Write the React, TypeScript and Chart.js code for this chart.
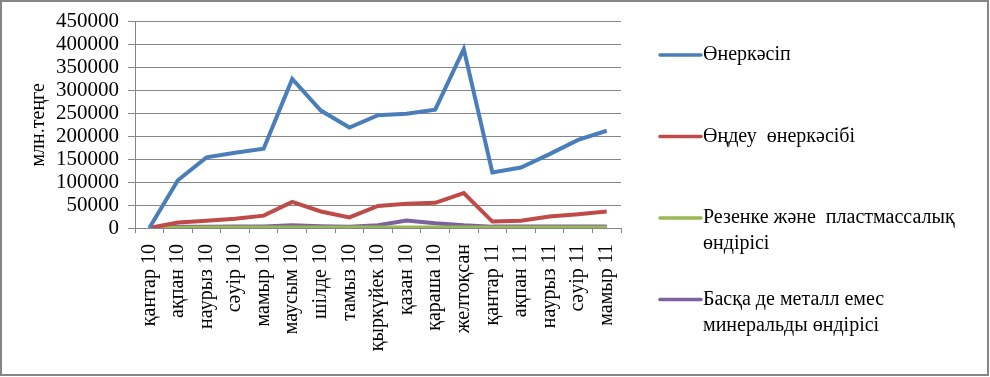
import React, { useEffect, useRef } from "react";
import { Chart, registerables } from "chart.js";

Chart.register(...registerables);

const categories = [
  "қантар 10", "ақпан 10", "наурыз 10", "сәуір 10", "мамыр 10", "маусым 10",
  "шілде 10", "тамыз 10", "қыркүйек 10", "қазан 10", "қараша 10", "желтоқсан",
  "қантар 11", "ақпан 11", "наурыз 11", "сәуір 11", "мамыр 11",
];

const industry = [0, 104000, 154000, 164000, 173000, 325000, 256000, 219000, 246000, 249000, 258000, 390000, 121000, 132000, 161000, 192000, 212000];
const manufacturing = [0, 12000, 16000, 20000, 27000, 57000, 36000, 23000, 48000, 53000, 55000, 76000, 14000, 16000, 25000, 30000, 36000];
const rubberPlastic = [0, 800, 900, 1000, 1000, 1200, 1100, 1000, 1200, 1300, 1300, 1100, 900, 900, 1000, 1000, 1100];
const otherMinerals = [0, 2500, 2800, 3000, 3300, 6000, 4000, 2800, 6000, 16500, 10500, 6000, 3000, 3000, 3200, 3500, 3500];

const seriesLabels = [
  "Өнеркәсіп",
  "Өңдеу  өнеркәсібі",
  "Резенке және  пластмассалық өндірісі",
  "Басқа де металл емес минеральды өндірісі",
];
const seriesColors = ["#4A7EBB", "#BE4B48", "#98B954", "#7D60A0"];

const yTitle = "млн.теңге";
const yMin = 0;
const yMax = 450000;
const yStep = 50000;

const FONT = "Liberation Serif";

const legendPlugin = {
  id: "customLegend",
  afterDraw(chart: any) {
    const ctx = chart.ctx;
    ctx.save();
    ctx.font = "normal 20px \"Liberation Serif\"";
    ctx.textBaseline = "middle";
    ctx.textAlign = "left";
    const startY = 55;
    const stepY = 81.5;
    const lineH = 26;
    const x0 = 660;
    const x1 = 701;
    const tx = 703;
    const maxW = 272;
    chart.data.datasets.forEach((ds: any, i: number) => {
      const y = startY + i * stepY;
      ctx.strokeStyle = ds.borderColor;
      ctx.lineWidth = 3.5;
      ctx.lineCap = "round";
      ctx.beginPath();
      ctx.moveTo(x0, y);
      ctx.lineTo(x1, y);
      ctx.stroke();
      const words = String(ds.label).split(" ");
      const lines: string[] = [];
      let cur = "";
      for (const w of words) {
        const test = cur === "" ? w : cur + " " + w;
        if (cur !== "" && ctx.measureText(test).width > maxW) {
          lines.push(cur);
          cur = w;
        } else {
          cur = test;
        }
      }
      if (cur !== "") lines.push(cur);
      ctx.fillStyle = "#000";
      lines.forEach((ln, k) => ctx.fillText(ln, tx, y + k * lineH));
    });
    ctx.restore();
  },
};

const borderPlugin = {
  id: "outerBorder",
  afterDraw(chart: any) {
    const ctx = chart.ctx;
    ctx.save();
    ctx.strokeStyle = "#868686";
    ctx.lineWidth = 2;
    ctx.strokeRect(1, 1, 987, 374);
    ctx.restore();
  },
};

export default function App() {
  const ref = useRef<HTMLCanvasElement | null>(null);
  useEffect(() => {
    document.body.style.margin = "0";
    const canvas = ref.current;
    if (!canvas) return;
    const data = [industry, manufacturing, rubberPlastic, otherMinerals];
    const chart = new Chart(canvas, {
      type: "line",
      data: {
        labels: categories,
        datasets: data.map((d, i) => ({
          label: seriesLabels[i],
          data: d,
          borderColor: seriesColors[i],
          backgroundColor: seriesColors[i],
          borderWidth: 4,
          pointRadius: 0,
          tension: 0,
          fill: false,
        })),
      },
      options: {
        responsive: false,
        animation: false,
        devicePixelRatio: 1,
        layout: { padding: { left: 0, top: 20, right: 369, bottom: 0 } },
        plugins: {
          legend: { display: false },
          tooltip: { enabled: false },
        },
        scales: {
          x: {
            offset: true,
            grid: {
              display: true,
              drawOnChartArea: false,
              offset: true,
              tickLength: 5,
              color: "#868686",
            },
            border: { display: true, color: "#868686" },
            ticks: {
              minRotation: 90,
              maxRotation: 90,
              autoSkip: false,
              color: "#000",
              padding: 11,
              font: { family: FONT, size: 20 },
            },
            afterFit(scale: any) {
              scale.height = 149;
            },
          },
          y: {
            min: yMin,
            max: yMax,
            grid: { color: "#868686", tickLength: 7 },
            border: { display: true, color: "#868686" },
            ticks: {
              stepSize: yStep,
              autoSkip: false,
              color: "#000",
              padding: 9,
              font: { family: FONT, size: 21 },
              callback: (v: any) => String(v),
            },
            title: {
              display: true,
              text: yTitle,
              color: "#000",
              font: { family: FONT, size: 20 },
              padding: { top: 27, bottom: 0 },
            },
            afterFit(scale: any) {
              scale.width = 135;
            },
          },
        },
      },
      plugins: [legendPlugin, borderPlugin],
    });
    return () => chart.destroy();
  }, []);
  return (
    <div style={{ width: 990, height: 377, background: "#fff" }}>
      <canvas ref={ref} width={990} height={377} />
    </div>
  );
}
